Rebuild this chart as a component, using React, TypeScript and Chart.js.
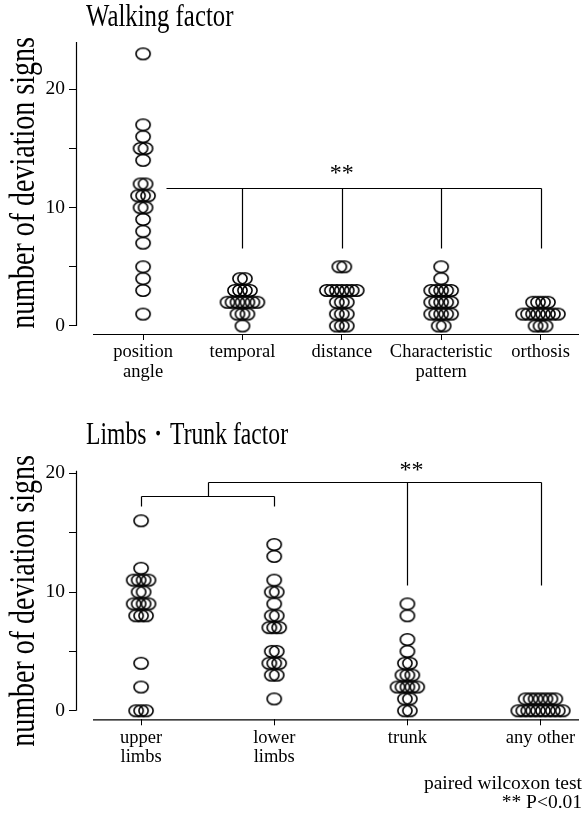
import React, { useEffect, useRef } from 'react';
import { Chart, registerables } from 'chart.js';

Chart.register(...registerables);

// ---------- data ----------
const walkingCategories = [['position', 'angle'], ['temporal'], ['distance'], ['Characteristic', 'pattern'], ['orthosis']];
const positionAngle = [23, 17, 16, 15, 15, 14, 12, 12, 11, 11, 11, 10, 10, 9, 8, 7, 5, 4, 3, 1];
const temporal = [4, 4, 3, 3, 3, 3, 2, 2, 2, 2, 2, 2, 2, 1, 1, 1, 0];
const distance = [5, 5, 3, 3, 3, 3, 3, 3, 3, 2, 2, 2, 1, 1, 1, 0, 0, 0];
const characteristic = [5, 4, 3, 3, 3, 3, 3, 2, 2, 2, 2, 2, 1, 1, 1, 1, 1, 0, 0];
const orthosis = [2, 2, 2, 2, 1, 1, 1, 1, 1, 1, 1, 1, 0, 0, 0];

const limbsCategories = [['upper', 'limbs'], ['lower', 'limbs'], ['trunk'], ['any other']];
const upperLimbs = [16, 12, 11, 11, 11, 11, 10, 10, 9, 9, 9, 9, 8, 8, 8, 4, 2, 0, 0, 0];
const lowerLimbs = [14, 13, 11, 10, 10, 9, 8, 8, 7, 7, 7, 5, 5, 4, 4, 4, 3, 3, 1];
const trunk = [9, 8, 6, 5, 4, 4, 3, 3, 3, 2, 2, 2, 2, 2, 1, 1, 0, 0];
const anyOther = [1, 1, 1, 1, 1, 1, 1, 0, 0, 0, 0, 0, 0, 0, 0, 0, 0];

const yTickValues = [0, 5, 10, 15, 20];
const yTickLabels = ['0', '', '10', '', '20'];

// significance brackets, in data units: [x1, y1, x2, y2]
const walkingBracket = [
  [0.23, 11.65, 4, 11.65],
  [1, 11.65, 1, 6.56],
  [2, 11.65, 2, 6.56],
  [3, 11.65, 3, 6.56],
  [4, 11.65, 4, 6.56],
];
const walkingStars = [{ x: 2, y: 13.2, text: '**' }];

const limbsBracket = [
  [0, 18.09, 1, 18.09],
  [0, 18.09, 0, 17.25],
  [1, 18.09, 1, 17.25],
  [0.5, 18.09, 0.5, 19.29],
  [0.5, 19.29, 3, 19.29],
  [2, 19.29, 2, 10.6],
  [3, 19.29, 3, 10.6],
];
const limbsStars = [{ x: 2.03, y: 20.56, text: '**' }];

const FONT = "'Liberation Serif', 'Times New Roman', serif";

function swarm(values: number[], idx: number, step: number) {
  const counts = new Map<number, number>();
  values.forEach((v) => counts.set(v, (counts.get(v) || 0) + 1));
  const seen = new Map<number, number>();
  return values.map((v) => {
    const n = counts.get(v) as number;
    const k = seen.get(v) || 0;
    seen.set(v, k + 1);
    return { x: idx + (k - (n - 1) / 2) * step, y: v };
  });
}

function makeRing() {
  const c = document.createElement('canvas');
  c.width = 18;
  c.height = 15;
  const ctx = c.getContext('2d') as CanvasRenderingContext2D;
  ctx.strokeStyle = '#000';
  ctx.lineWidth = 1.6;
  ctx.beginPath();
  ctx.ellipse(9, 7.5, 7.1, 5.7, 0, 0, Math.PI * 2);
  ctx.stroke();
  return c;
}

function condensed(ctx: CanvasRenderingContext2D, text: string, x: number, y: number, size: number, sx: number, align: CanvasTextAlign, rot = 0, fitWidth = 0) {
  ctx.save();
  ctx.translate(x, y);
  if (rot) ctx.rotate(rot);
  ctx.font = `${size}px ${FONT}`;
  let scaleX = sx;
  if (fitWidth) scaleX = fitWidth / ctx.measureText(text).width;
  ctx.scale(scaleX, 1);
  ctx.fillStyle = '#000';
  ctx.textAlign = align;
  ctx.textBaseline = 'alphabetic';
  ctx.fillText(text, 0, 0);
  ctx.restore();
}

interface Spec {
  width: number;
  height: number;
  categories: string[][];
  groups: number[][];
  step: number;
  xMin: number;
  xMax: number;
  yMin: number;
  yMax: number;
  padTop: number;
  xHeight: number;
  segments: number[][];
  stars: { x: number; y: number; text: string }[];
  title: string;
  titleBaseline: number;
  titleWidth: number;
  yTitleCenter: number;
  footnote?: string[];
}

function buildChart(canvas: HTMLCanvasElement, s: Spec) {
  const ring = makeRing();
  const points = s.groups.flatMap((g, i) => swarm(g, i, s.step));

  const annot = {
    id: 'annot',
    afterDraw(chart: any) {
      const { ctx, chartArea } = chart;
      const xs = chart.scales.x;
      const ys = chart.scales.y;
      ctx.save();
      ctx.strokeStyle = '#000';
      ctx.lineWidth = 1.2;
      // axes
      ctx.beginPath();
      ctx.moveTo(chartArea.left + 0.5, ys.getPixelForValue(0));
      ctx.lineTo(chartArea.left + 0.5, chartArea.top);
      ctx.moveTo(chartArea.left + 17, chartArea.bottom + 0.5);
      ctx.lineTo(chartArea.right, chartArea.bottom + 0.5);
      ctx.stroke();
      // brackets
      ctx.beginPath();
      s.segments.forEach(([x1, y1, x2, y2]) => {
        ctx.moveTo(Math.round(xs.getPixelForValue(x1)) + 0.5, Math.round(ys.getPixelForValue(y1)) + 0.5);
        ctx.lineTo(Math.round(xs.getPixelForValue(x2)) + 0.5, Math.round(ys.getPixelForValue(y2)) + 0.5);
      });
      ctx.stroke();
      ctx.restore();
      // stars
      s.stars.forEach((st) => {
        ctx.save();
        ctx.font = `24px ${FONT}`;
        ctx.fillStyle = '#000';
        ctx.textAlign = 'center';
        ctx.textBaseline = 'alphabetic';
        ctx.fillText(st.text, xs.getPixelForValue(st.x), ys.getPixelForValue(st.y) + 10);
        ctx.restore();
      });
      // titles
      condensed(ctx, s.title, 86, s.titleBaseline, 31, 0.8, 'left', 0, s.titleWidth);
      condensed(ctx, 'number of deviation signs', 34, s.yTitleCenter, 35, 0.8, 'center', -Math.PI / 2);
      if (s.footnote) {
        ctx.save();
        ctx.font = `19.5px ${FONT}`;
        ctx.fillStyle = '#000';
        ctx.textAlign = 'right';
        ctx.fillText(s.footnote[0], 582, s.height - 25);
        ctx.fillText(s.footnote[1], 582, s.height - 6);
        ctx.restore();
      }
    },
  };

  return new Chart(canvas, {
    type: 'scatter',
    data: {
      datasets: [
        {
          data: points,
          pointStyle: ring as any,
          pointRadius: 6,
          pointHoverRadius: 6,
          borderColor: '#000',
          backgroundColor: 'rgba(0,0,0,0)',
        },
      ],
    },
    options: {
      animation: false,
      responsive: false,
      events: [],
      layout: { padding: { top: s.padTop, left: 0, right: 0, bottom: 0 } },
      plugins: { legend: { display: false }, tooltip: { enabled: false }, title: { display: false } },
      scales: {
        x: {
          type: 'linear',
          min: s.xMin,
          max: s.xMax,
          border: { display: false },
          grid: { display: true, drawOnChartArea: false, drawTicks: true, tickLength: 6, tickColor: '#000', tickWidth: 1 },
          afterBuildTicks: (scale: any) => {
            scale.ticks = s.categories.map((_, i) => ({ value: i }));
          },
          afterFit: (scale: any) => {
            scale.height = s.xHeight;
            scale.paddingLeft = 0;
            scale.paddingRight = 0;
          },
          ticks: {
            autoSkip: false,
            maxRotation: 0,
            minRotation: 0,
            padding: 3,
            color: '#000',
            font: { family: FONT, size: 18.5, lineHeight: 1.04 },
            callback: (v: any) => s.categories[Math.round(Number(v))] || '',
          },
        },
        y: {
          type: 'linear',
          min: s.yMin,
          max: s.yMax,
          border: { display: false },
          grid: { display: true, drawOnChartArea: false, drawTicks: true, tickLength: 7, tickColor: '#000', tickWidth: 1 },
          afterBuildTicks: (scale: any) => {
            scale.ticks = yTickValues.map((v) => ({ value: v }));
          },
          afterFit: (scale: any) => {
            scale.width = 76;
            scale.paddingTop = 0;
            scale.paddingBottom = 0;
          },
          ticks: {
            autoSkip: false,
            padding: 4,
            color: '#000',
            font: { family: FONT, size: 19.5 },
            callback: (v: any) => yTickLabels[yTickValues.indexOf(Number(v))] ?? '',
          },
        },
      },
    },
    plugins: [annot],
  } as any);
}

const walkingSpec: Spec = {
  width: 586,
  height: 400,
  categories: walkingCategories,
  groups: [positionAngle, temporal, distance, characteristic, orthosis],
  step: 0.05,
  xMin: -0.675,
  xMax: 4.387,
  yMin: -0.68,
  yMax: 24,
  padTop: 42,
  xHeight: 66,
  segments: walkingBracket,
  stars: walkingStars,
  title: 'Walking factor',
  titleBaseline: 26,
  titleWidth: 0,
  yTitleCenter: 183,
};

const limbsSpec: Spec = {
  width: 586,
  height: 414,
  categories: limbsCategories,
  groups: [upperLimbs, lowerLimbs, trunk, anyOther],
  step: 0.037,
  xMin: -0.489,
  xMax: 3.289,
  yMin: -0.72,
  yMax: 20.22,
  padTop: 70.7,
  xHeight: 94.7,
  segments: limbsBracket,
  stars: limbsStars,
  title: 'Limbs・Trunk factor',
  titleBaseline: 44,
  titleWidth: 202,
  yTitleCenter: 201,
  footnote: ['paired wilcoxon test', '** P<0.01'],
};

function Panel({ spec, top }: { spec: Spec; top: number }) {
  const ref = useRef<HTMLCanvasElement | null>(null);
  useEffect(() => {
    if (!ref.current) return;
    const chart = buildChart(ref.current, spec);
    return () => chart.destroy();
  }, [spec]);
  return (
    <canvas
      ref={ref}
      width={spec.width}
      height={spec.height}
      style={{ position: 'absolute', left: 0, top, width: spec.width, height: spec.height, display: 'block' }}
    />
  );
}

export default function App() {
  return (
    <div style={{ position: 'absolute', left: 0, top: 0, width: 586, height: 814, background: '#fff', overflow: 'hidden' }}>
      <Panel spec={walkingSpec} top={0} />
      <Panel spec={limbsSpec} top={400} />
    </div>
  );
}
